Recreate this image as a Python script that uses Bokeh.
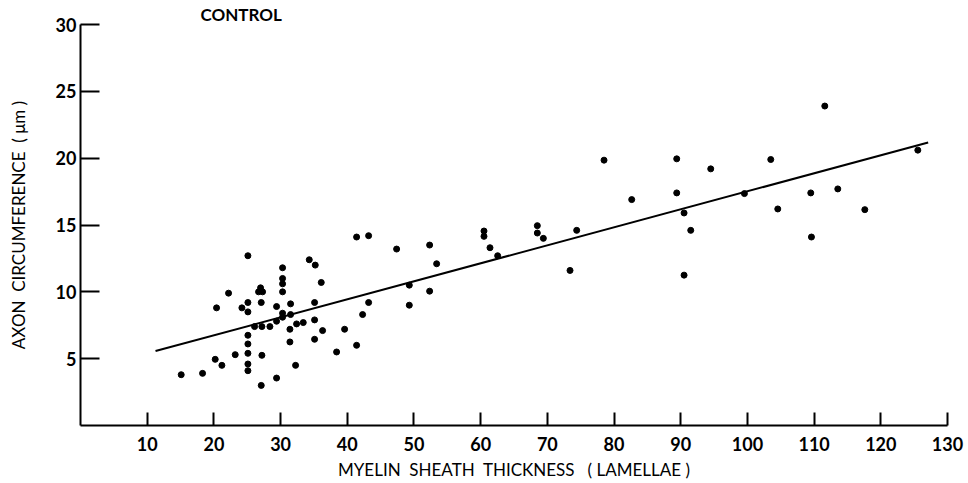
from bokeh.plotting import figure
from bokeh.models import FixedTicker, Range1d
from bokeh.embed import file_html
from bokeh.resources import INLINE

# Myelin sheath thickness (lamellae)
thickness = [
    15.1, 18.3, 20.2, 21.2, 20.4, 22.2, 23.2, 24.2,
    25.1, 25.1, 25.1, 25.1, 25.1, 25.1, 25.1, 25.1,
    26.1, 26.7, 27.3, 27.0, 27.1, 27.2, 27.2, 27.1, 28.4,
    29.4, 29.4, 29.4, 30.3, 30.3, 30.3, 30.3, 30.3, 30.3,
    31.5, 31.5, 31.4, 31.4, 32.25, 32.4, 33.4,
    34.3, 35.2, 35.1, 35.1, 35.1, 36.1, 36.3, 38.4, 39.6,
    41.4, 41.4, 43.2, 42.3, 43.2, 47.4, 49.3, 49.3,
    52.35, 52.35, 53.4, 60.5, 60.5, 61.4, 62.55,
    68.5, 68.5, 69.4, 73.4, 74.4, 78.5, 82.65,
    89.4, 89.4, 90.5, 90.5, 91.5, 94.5, 99.55,
    103.5, 104.55, 109.5, 109.6, 111.6, 113.55, 117.6, 125.55,
]
# Axon circumference (um)
circumference = [
    3.8, 3.9, 4.95, 4.5, 8.8, 9.9, 5.3, 8.8,
    12.7, 9.2, 8.5, 6.75, 6.1, 5.4, 4.6, 4.1,
    7.4, 10.0, 10.0, 10.3, 9.2, 7.4, 5.25, 3.0, 7.4,
    8.9, 7.8, 3.55, 11.8, 11.0, 10.6, 10.0, 8.4, 8.1,
    9.1, 8.3, 7.2, 6.25, 4.5, 7.6, 7.7,
    12.4, 12.0, 9.2, 7.9, 6.45, 10.7, 7.1, 5.5, 7.2,
    6.0, 14.1, 14.2, 8.3, 9.2, 13.2, 10.5, 9.0,
    13.5, 10.05, 12.1, 14.55, 14.15, 13.3, 12.7,
    14.95, 14.4, 14.0, 11.6, 14.6, 19.85, 16.9,
    19.95, 17.4, 15.9, 11.25, 14.6, 19.2, 17.35,
    19.9, 16.2, 17.4, 14.1, 23.9, 17.7, 16.15, 20.6,
]
# Regression line end points
fit_x = [11.25, 127.1]
fit_y = [5.57, 21.17]

x_ticks = [10, 20, 30, 40, 50, 60, 70, 80, 90, 100, 110, 120, 130]
y_ticks = [5, 10, 15, 20, 25, 30]

FONT = "Lato"
NB = "\u00a0"

p = figure(width=964, height=483, x_range=Range1d(0, 130), y_range=Range1d(0, 30),
           output_backend="svg", toolbar_location=None,
           min_border_left=80, min_border_right=17, min_border_top=24, min_border_bottom=58)
p.outline_line_color = None
p.grid.visible = False
p.background_fill_color = "white"
p.border_fill_color = "white"

p.title.text = "CONTROL"
p.title.align = "left"
p.title.offset = 120
p.title.standoff = 0
p.title.text_font = FONT
p.title.text_font_style = "bold"
p.title.text_font_size = "17px"
p.title.text_color = "black"

p.line(fit_x, fit_y, line_width=2, line_color="black")
p.scatter(thickness, circumference, size=6, fill_color="black", line_color="black")

xa = p.xaxis[0]
xa.ticker = FixedTicker(ticks=x_ticks)
xa.major_tick_in = 13
xa.major_tick_out = 0
xa.minor_tick_line_color = None
xa.axis_line_width = 2
xa.major_tick_line_width = 2
xa.major_label_text_font = FONT
xa.major_label_text_font_style = "bold"
xa.major_label_text_font_size = "18px"
xa.major_label_text_color = "black"
xa.major_label_standoff = 11
xa.axis_label = NB.join(["MYELIN", "", "SHEATH", "", "THICKNESS", "", "", "(", "LAMELLAE", ")"])
xa.axis_label_text_font = FONT
xa.axis_label_text_font_style = "normal"
xa.axis_label_text_font_size = "17px"
xa.axis_label_text_color = "black"
xa.axis_label_standoff = 5

ya = p.yaxis[0]
ya.ticker = FixedTicker(ticks=y_ticks)
ya.major_tick_in = 19
ya.major_tick_out = 0
ya.minor_tick_line_color = None
ya.axis_line_width = 2
ya.major_tick_line_width = 2
ya.major_label_text_font = FONT
ya.major_label_text_font_style = "bold"
ya.major_label_text_font_size = "18px"
ya.major_label_text_color = "black"
ya.major_label_standoff = 4
ya.axis_label = NB.join(["AXON", "", "CIRCUMFERENCE", "", "(", "\u03bcm", ")"])
ya.axis_label_text_font = FONT
ya.axis_label_text_font_style = "normal"
ya.axis_label_text_font_size = "17px"
ya.axis_label_text_color = "black"
ya.axis_label_standoff = 24

open("out.html", "w").write(file_html(p, INLINE))
